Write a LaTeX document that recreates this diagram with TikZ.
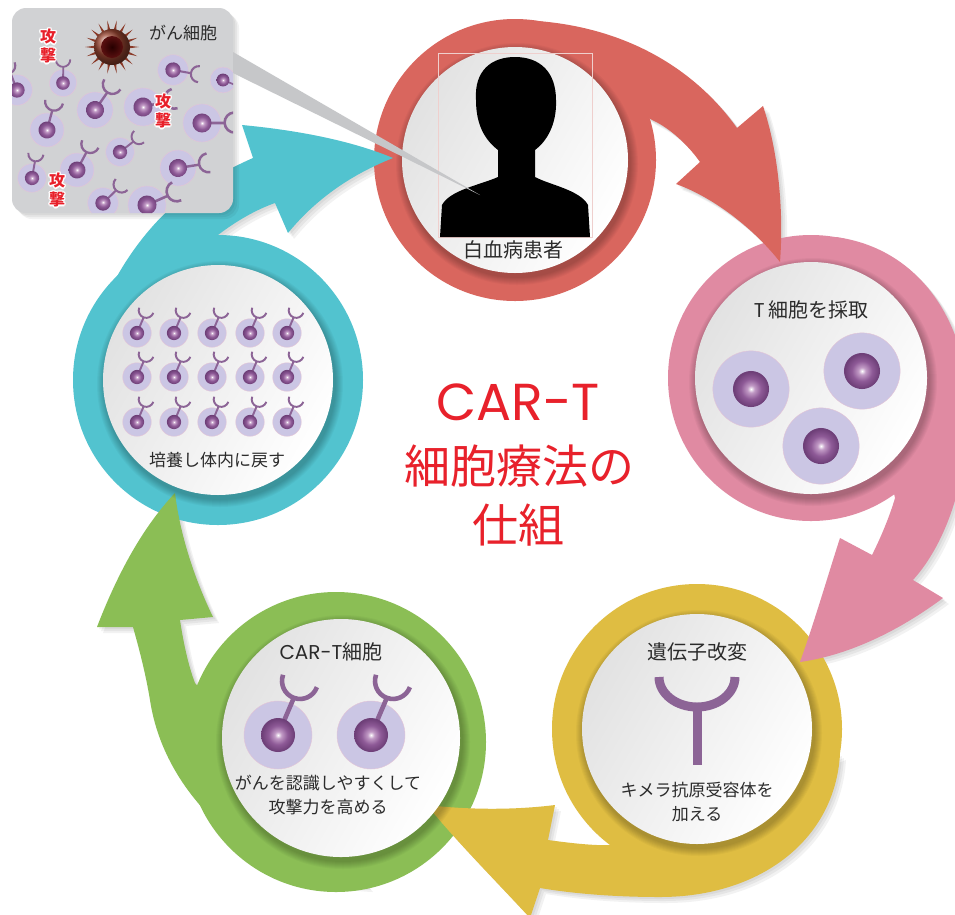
\documentclass[tikz,border=0pt]{standalone}
\usepackage{fontspec}
\usetikzlibrary{calc}
\newfontfamily\jp{Noto Sans CJK JP}
\newfontfamily\pop{Poppins}

\definecolor{ringred}{HTML}{D9665E}
\definecolor{ringpink}{HTML}{E08AA2}
\definecolor{ringyel}{HTML}{DFBD42}
\definecolor{ringgrn}{HTML}{8BBE55}
\definecolor{ringcyn}{HTML}{52C3CF}
\definecolor{titlered}{HTML}{E8212B}
\definecolor{atkred}{HTML}{E8202A}
\definecolor{receptor}{HTML}{8C6496}
\definecolor{halolav}{HTML}{CBC6E4}
\definecolor{halopink}{HTML}{E4C4D6}
\definecolor{ballmid}{HTML}{C29BC6}
\definecolor{ballpurple}{HTML}{8E5A97}
\definecolor{balldark}{HTML}{6E3F78}
\definecolor{boxgray}{HTML}{D1D2D4}
\definecolor{wedgegray}{HTML}{C6C7C9}
\definecolor{labelgray}{HTML}{2B2B2B}
\definecolor{discgray}{HTML}{E2E2E2}
\definecolor{framepink}{HTML}{EFCFCD}
\definecolor{cancerrim}{HTML}{8A3A28}
\definecolor{cancerbody}{HTML}{9A4632}
\definecolor{cancernuc}{HTML}{5A1010}

% purple cell body, lit in the middle
\pgfdeclareradialshading{tball}{\pgfpoint{0bp}{0bp}}{%
  color(0bp)=(white); color(5bp)=(ballmid); color(14bp)=(ballpurple);
  color(24bp)=(balldark); color(50bp)=(balldark)}

% outlines of the five swooshes (pixel grid, y down)
\def\redswoosh{(503,20) .. controls (610,18) and (690,62) .. (737,128)
    -- (763,106) .. controls (778,150) and (784,210) .. (780,262)
    .. controls (755,230) and (715,198) .. (676,184)
    -- (700,162) .. controls (688,145) and (670,128) .. (652,120) -- cycle}
\def\pinkswoosh{(836,237) .. controls (930,250) and (975,340) .. (968,430)
    .. controls (962,500) and (940,550) .. (913,580)
    -- (943,598) .. controls (900,630) and (850,655) .. (800,662)
    .. controls (815,620) and (828,575) .. (840,538)
    -- (872,555) .. controls (882,535) and (890,515) .. (895,498) -- cycle}
\def\yelswoosh{(840,754) .. controls (835,840) and (760,897) .. (660,897)
    .. controls (610,897) and (570,893) .. (540,888)
    -- (530,918) .. controls (495,880) and (455,840) .. (427,805)
    .. controls (470,810) and (515,810) .. (555,805)
    -- (548,840) .. controls (570,843) and (595,846) .. (613,845) -- cycle}
\def\grnswoosh{(367,886) .. controls (260,882) and (165,800) .. (150,700)
    .. controls (145,670) and (138,645) .. (133,627)
    -- (97,627) .. controls (115,580) and (140,530) .. (175,493)
    .. controls (180,535) and (195,580) .. (213,617)
    -- (180,620) .. controls (183,640) and (188,665) .. (195,683) -- cycle}
\def\cynswoosh{(82,430) .. controls (72,330) and (130,240) .. (180,200)
    .. controls (205,182) and (230,168) .. (253,158)
    -- (242,125) .. controls (295,130) and (350,140) .. (393,158)
    .. controls (350,175) and (315,200) .. (288,233)
    -- (275,203) .. controls (255,210) and (235,222) .. (218,235) -- cycle}

\tikzset{
  halo/.style={fill=halolav, draw=halopink, line width=0.4pt},
  recep/.style={draw=receptor, line cap=butt},
  drop/.style={black, opacity=.05},
  lbl/.style={font=\jp\fontsize{20}{24}\selectfont, text=labelgray, inner sep=0pt},
  desc/.style={font=\jp\fontsize{17}{24}\selectfont, text=labelgray, inner sep=0pt, align=center},
  ttl/.style={text=titlered, inner sep=0pt},
  atk/.style={font=\jp\bfseries\fontsize{16}{17}\selectfont, text=atkred, inner sep=0pt, align=center},
}

% T cell with a receptor: x, y, scale, turn
\newcommand\tcell[4]{%
  \begin{scope}[shift={(#1,#2)}, yscale=-1, scale=#3, rotate=#4]
    \fill[halo] (0,0) circle (34);
    \draw[recep, line width=#3*4.6pt] (0,0) -- (15.8,37.1);
    \draw[recep, line width=#3*4.6pt] (5.1,60.2) arc[start angle=160, end angle=340, radius=18];
    \shade[shading=tball] (0,0) circle (17);
  \end{scope}}

% plain T cell: x, y, scale
\newcommand\pcell[3]{%
  \begin{scope}[shift={(#1,#2)}, scale=#3]
    \fill[halo] (0,0) circle (36);
    \shade[shading=tball] (0,0) circle (17);
  \end{scope}}

% white disc with its soft shadow: name, x, y, r
\newcommand\disc[4]{%
  \coordinate (#1) at (#2,#3);
  \foreach \k in {1,...,8}
    \fill[black, opacity=.03] ({#2+2},{#3+4}) circle ({#4+\k});
  \shade[left color=discgray, right color=white, shading angle=60] (#1) circle (#4);}

% glyph with a white rim
\newcommand\rimchar[1]{%
  \rlap{\color{white}\kern1.4pt#1}\rlap{\color{white}\kern-1.4pt#1}%
  \rlap{\color{white}\raisebox{1.4pt}{#1}}\rlap{\color{white}\raisebox{-1.4pt}{#1}}%
  \rlap{\color{white}\kern1pt\raisebox{1pt}{#1}}\rlap{\color{white}\kern-1pt\raisebox{1pt}{#1}}%
  \rlap{\color{white}\kern1pt\raisebox{-1pt}{#1}}\rlap{\color{white}\kern-1pt\raisebox{-1pt}{#1}}%
  #1}

\begin{document}
\begin{tikzpicture}[x=1pt, y=-1pt]
  \useasboundingbox (0,0) rectangle (955,914);
  \fill[white] (0,0) rectangle (955,914);
  \clip (0,0) rectangle (955,914);

  % soft shadows under the swooshes
  \foreach \s in {2,4,6} {
    \fill[drop, shift={(\s,\s)}] \redswoosh;
    \fill[drop, shift={(\s,\s)}] \pinkswoosh;
    \fill[drop, shift={(\s,\s)}] \yelswoosh;
    \fill[drop, shift={(\s,\s)}] \grnswoosh;
    \fill[drop, shift={(\s,\s)}] \cynswoosh;
  }

  % rings
  \fill[ringred]  (515,160) circle (141);
  \fill[ringpink] (811,378) circle (143);
  \fill[ringyel]  (697,729) circle (145);
  \fill[ringgrn]  (336,742) circle (150);
  \fill[ringcyn]  (218,380) circle (145);

  % swooshes, each running clockwise into the next ring
  \fill[ringred] \redswoosh;
  \fill[ringpink] \pinkswoosh;
  \fill[ringyel] \yelswoosh;
  \fill[ringgrn] \grnswoosh;
  \fill[ringcyn] \cynswoosh;

  % white discs
  \disc{patientC}{515}{160}{113}
  \disc{harvestC}{811}{378}{116}
  \disc{modifyC}{697}{729}{115}
  \disc{cartC}{341}{738}{119}
  \disc{cultureC}{218}{380}{115}

  % patient silhouette
  \draw[framepink, line width=0.4pt] (438,53) rectangle (592,237);
  \fill[black] (498,177) -- (498,150) .. controls (485,140) and (476,125) .. (476,100)
    .. controls (474,70) and (492,57) .. (515,57)
    .. controls (540,57) and (556,72) .. (556,100)
    .. controls (557,125) and (546,142) .. (535,150) -- (535,177)
    .. controls (550,185) and (580,190) .. (588,205) -- (590,237) -- (440,237)
    -- (442,205) .. controls (450,190) and (480,185) .. (498,177) -- cycle;
  \node[lbl] (patient) at (513,250) {白血病患者};

  % harvested T cells
  \node[lbl] (harvest) at (811,310) {{\pop T}\,細胞を採取};
  \pcell{751}{389}{1.06}
  \pcell{862}{371}{1.06}
  \pcell{821}{446}{1.06}

  % receptor added by gene editing
  \node[lbl] (modify) at (697,652) {遺伝子改変};
  \draw[recep, line width=9pt] (659,677) arc[start angle=180, end angle=0, x radius=38, y radius=30];
  \draw[recep, line width=9pt] (697,703) -- (697,765);
  \node[desc] (carAdd) at (697,802) {キメラ抗原受容体を\\加える};

  % CAR-T cells
  \node[lbl] (cart) at (331,652) {{\pop CAR-T}細胞};
  \tcell{278}{735}{1}{0}
  \tcell{371}{735}{1}{0}
  \node[desc] (cartNote) at (328,795) {がんを認識しやすくして\\攻撃力を高める};

  % cultured cells
  \foreach \r in {333,377,422}
    \foreach \c in {137,174,212,250,287}
      {\tcell{\c}{\r}{0.42}{0}}
  \node[desc] (culture) at (217,460) {培養し体内に戻す};

  % title
  \node[ttl, font=\pop\fontsize{52}{60}\selectfont] (ttlA) at (518,402) {CAR-T};
  \node[ttl, font=\jp\fontsize{46}{50}\selectfont] (ttlB) at (519,466) {細胞療法の};
  \node[ttl, font=\jp\fontsize{46}{50}\selectfont] (ttlC) at (518,525) {仕組};

  % inset: cells attacking a tumour
  \foreach \s in {2,4,6}
    \fill[drop, rounded corners=14, shift={(\s,\s)}] (12,8) rectangle (233,213);
  \fill[boxgray, rounded corners=14] (12,8) rectangle (233,213);
  \begin{scope}
    \clip[rounded corners=14] (12,8) rectangle (233,213);
    \tcell{17}{90}{.45}{-44}
    \tcell{63}{83}{.40}{-22}
    \tcell{173}{70}{.45}{77}
    \tcell{223}{80}{.38}{89}
    \tcell{95}{110}{.53}{12}
    \tcell{143}{107}{.56}{53}
    \tcell{202}{123}{.56}{67}
    \tcell{47}{130}{.50}{-8}
    \tcell{120}{152}{.42}{29}
    \tcell{77}{170}{.50}{5}
    \tcell{178}{168}{.53}{58}
    \tcell{32}{178}{.42}{-13}
    \tcell{103}{203}{.45}{23}
    \tcell{147}{205}{.56}{43}
  \end{scope}
  \coordinate (tumour) at (112,47);
  \foreach \a in {0,20,...,340}
    \fill[cancerrim] ($(tumour)+(\a-7:14)$) -- ($(tumour)+(\a:27)$) -- ($(tumour)+(\a+7:14)$) -- cycle;
  \shade[ball color=cancerbody] (tumour) circle (18);
  \shade[inner color=black!85!red, outer color=cancernuc] (tumour) circle (11);
  \node[desc] (cancer) at (183,33) {がん細胞};
  \node[atk] (atkA) at (48,46) {\rimchar{攻}\\\rimchar{撃}};
  \node[atk] (atkB) at (163,111) {\rimchar{攻}\\\rimchar{撃}};
  \node[atk] (atkC) at (57,190) {\rimchar{攻}\\\rimchar{撃}};

  % pointer from the inset to the patient
  \fill[wedgegray] (233,52) -- (480,195) -- (233,73) -- cycle;
\end{tikzpicture}
\end{document}
